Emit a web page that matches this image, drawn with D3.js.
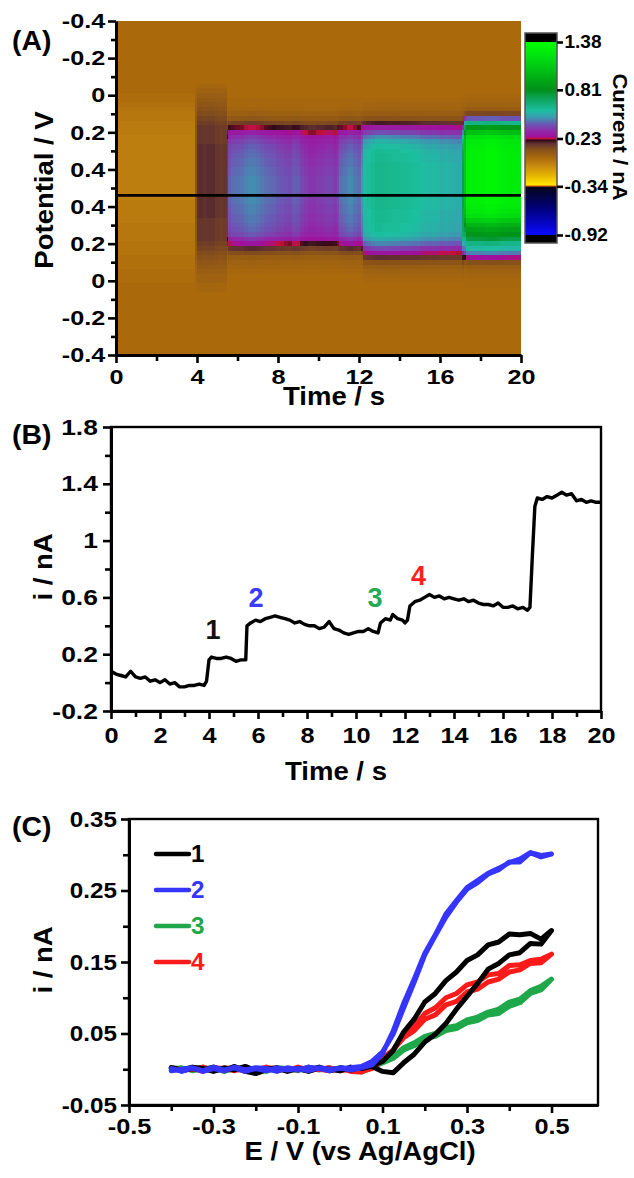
<!DOCTYPE html>
<html>
<head>
<meta charset="utf-8">
<script src="https://cdn.jsdelivr.net/npm/d3@7"></script>
<style>
  html, body { margin: 0; padding: 0; background: #fff; }
  svg { display: block; }
</style>
</head>
<body>
<svg id="fig" width="634" height="1178"></svg>
<script>
// ---------------- Data ----------------

// (B) current at the probe potential vs time
const traceTime = [0,0.2,0.4,0.6,0.8,1.0,1.2,1.4,1.6,1.8,2.0,2.2,2.4,2.6,2.8,3.0,3.2,3.4,3.6,3.8,
  3.9,4.0,4.1,4.3,4.5,4.7,4.9,5.1,5.3,5.5,5.55,
  5.7,5.9,6.1,6.3,6.5,6.7,6.9,7.1,7.3,7.5,7.7,7.9,8.1,8.3,8.5,8.7,8.9,9.1,9.3,9.5,9.7,9.9,10.1,10.3,10.5,10.7,10.9,
  11.0,11.2,11.4,11.5,11.7,11.9,12.0,12.1,12.2,
  12.4,12.6,12.8,13.0,13.2,13.4,13.6,13.8,14.0,14.2,14.4,14.6,14.8,15.0,15.2,15.4,15.6,15.8,16.0,16.2,16.4,16.6,16.8,17.0,
  17.1,17.2,17.3,
  17.4,17.6,17.8,18.0,18.2,18.4,18.6,18.8,19.0,19.2,19.4,19.6,19.8,20.0];
const traceCurrent = [0.08,0.06,0.05,0.04,0.08,0.04,0.03,0.04,0.01,0.02,0.00,0.02,-0.01,0.00,-0.03,-0.03,-0.02,-0.02,-0.01,-0.02,
  0.01,0.16,0.18,0.17,0.17,0.18,0.17,0.15,0.16,0.16,0.40,
  0.42,0.44,0.43,0.45,0.46,0.47,0.46,0.45,0.44,0.42,0.43,0.41,0.40,0.40,0.38,0.39,0.43,0.38,0.37,0.35,0.34,0.35,0.36,0.36,0.38,0.36,0.35,
  0.42,0.45,0.44,0.48,0.45,0.44,0.42,0.44,0.54,
  0.57,0.58,0.60,0.62,0.60,0.61,0.59,0.60,0.59,0.58,0.59,0.57,0.58,0.56,0.55,0.55,0.54,0.56,0.53,0.53,0.54,0.52,0.53,0.51,
  0.53,0.90,1.24,
  1.30,1.29,1.31,1.30,1.32,1.34,1.32,1.33,1.28,1.29,1.27,1.28,1.27,1.27];
const eventLabels = ["1", "2", "3", "4"];
const eventTime = [4.16, 5.92, 10.78, 12.55];
const eventCurrent = [0.31, 0.53, 0.53, 0.69];
const eventColors = ["#111111", "#3b3bff", "#22aa55", "#ff2020"];

// (A) colour plot: potential sweep runs -0.4 -> 0.5 -> -0.4 V (sweep distance 0 .. 1.8)
const sweepTickPos = [0, 0.2, 0.4, 0.6, 0.8, 1.0, 1.2, 1.4, 1.6, 1.8];
const sweepTickLabels = ["-0.4", "-0.2", "0", "0.2", "0.4", "0.4", "0.2", "0", "-0.2", "-0.4"];
const sweepMinorPos = [0.1, 0.3, 0.5, 0.7, 0.9, 1.1, 1.3, 1.5, 1.7];
const probeSweep = 0.94;              // potential used for the trace in (B)
const heatBackground = 0.0;           // current outside the listed rows
const heatSegStart = [0, 3.95, 5.52, 12.15, 17.2];
const heatSweep = [0.300,0.325,0.350,0.375,0.400,0.425,0.450,0.475,0.500,0.525,0.550,0.575,0.600,0.625,0.650,0.675,
  0.700,0.725,0.750,0.775,0.800,0.825,0.850,0.875,0.900,0.925,0.950,0.975,1.000,1.025,1.050,1.075,
  1.100,1.125,1.150,1.175,1.200,1.225,1.250,1.275,1.300,1.325,1.350,1.375,1.400,1.425,1.450,1.475,1.500];
const heatProfile0 = [0,0,0,0, -0.01,-0.01,-0.02,-0.03,
  -0.04,-0.04,-0.05,-0.05,-0.05,-0.06,-0.06,-0.06,-0.06,-0.06,-0.06,-0.06,-0.06,-0.06,-0.06,-0.06,-0.06,-0.06,-0.06,-0.05,-0.05,-0.05,-0.05,-0.05,-0.04,-0.04,-0.04,-0.04,-0.03,-0.03,-0.03,-0.02,-0.02,
  -0.02,-0.01,-0.01,-0.01,0,0,0,0];
const heatProfile1 = [0,0,0.01,0.02, 0.03,0.04,0.05,0.06, 0.07,0.08,0.09,0.10,
  0.10,0.10,0.10,0.11,0.11,0.11,0.11,0.11,0.11,0.11,0.11,0.11,0.11,0.11,0.11,0.11,0.11,0.11,0.11,0.10,0.10,0.10,0.10,0.10,
  0.09,0.08,0.07,0.06, 0.05,0.04,0.03,0.02,0.02, 0.01,0.01,0,0];
const heatProfile2 = [0,0,0,0,0,0.01,0.01,0.02,0.04,0.07,
  0.13,0.21,0.27,0.32,0.35,0.37,
  0.38,0.39,0.40,0.40,0.41,0.41,0.42,0.42,0.42,0.42,0.42,0.42,0.41,0.41,0.40,0.40,0.39,0.38,
  0.36,0.31,0.24,0.16,0.10,0.05,
  0.03,0.02,0.01,0,0,0,0,0,0];
const heatProfile3 = [0,0,0,0,0,0.01,0.02,0.03,0.05,
  0.09,0.18,0.27,0.36,0.44,0.50,0.53,
  0.55,0.56,0.56,0.57,0.57,0.57,0.57,0.57,0.57,0.57,0.57,0.57,0.57,0.56,0.56,0.56,0.55,0.55,
  0.53,0.49,0.43,0.35,0.25,0.16,0.09,
  0.05,0.03,0.02,0.01,0,0,0,0];
const heatProfile4 = [0,0,0,0,0.01,0.02,0.03,0.05,
  0.12,0.40,0.62,0.85,1.05,1.20,1.26,1.28,
  1.29,1.30,1.30,1.30,1.30,1.30,1.30,1.30,1.30,1.30,1.30,1.30,1.28,1.25,
  1.20,1.10,0.98,0.90,0.84,0.75,0.62,
  0.55,0.45,0.25,0.10,0.05,
  0.03,0.02,0.01,0.01,0,0,0];

// colour map (nA -> colour)
const colorStopValues = [-0.92,-0.60,-0.345,-0.34,-0.32,-0.22,-0.10,0.0,0.10,0.17,0.21,0.23,0.25,0.32,0.40,0.48,0.56,0.68,0.81,1.0,1.2,1.38];
const colorStopColors = ["#0a0aff","#00007a","#050518","#e06010","#ffe600","#e8b800","#c88c10","#aa6a0c","#86501a","#603030","#300818","#c41038","#a0109c","#9028a8","#6a58b4","#3c98b0","#1cc0a0","#10a868","#00901a","#00b814","#00e010","#00ff00"];
const colorbarTicks = [1.38, 0.81, 0.23, -0.34, -0.92];
const colorbarTickLabels = ["1.38", "0.81", "0.23", "-0.34", "-0.92"];

// (C) cyclic voltammograms (forward then reverse sweep)
const cvPotential = [-0.4,-0.375,-0.35,-0.325,-0.3,-0.275,-0.25,-0.225,-0.2,-0.175,-0.15,-0.125,-0.1,-0.075,-0.05,-0.025,0,0.025,0.05,
  0.075,0.1,0.125,0.15,0.175,0.2,0.225,0.25,0.275,0.3,0.325,0.35,0.375,0.4,0.425,0.45,0.475,0.5,
  0.475,0.45,0.425,0.4,0.375,0.35,0.325,0.3,0.275,0.25,0.225,0.2,0.175,0.15,0.125,0.1,0.075,0.05,
  0.025,0,-0.025,-0.05,-0.075,-0.1,-0.125,-0.15,-0.175,-0.2,-0.225,-0.25,-0.275,-0.3,-0.325,-0.35,-0.375,-0.4];
const cv1 = [0.002,-0.002,0.001,-0.001,0.003,-0.002,0.004,-0.003,-0.006,-0.001,0.002,-0.002,0.001,-0.003,0.002,0.000,-0.002,0.003,0.001,
  0.004,-0.003,-0.005,0.009,0.021,0.038,0.049,0.064,0.084,0.102,0.12,0.14,0.148,0.16,0.163,0.176,0.175,0.194,
  0.182,0.19,0.188,0.189,0.178,0.174,0.16,0.152,0.136,0.124,0.106,0.094,0.07,0.052,0.026,0.011,0.005,0.003,
  -0.001,0.002,-0.002,0.003,-0.001,0.001,-0.003,0.002,0.000,-0.002,0.004,-0.001,0.002,-0.003,0.001,0.003,-0.001,0.002];
const cv2 = [0.001,-0.003,0.002,-0.002,0.003,-0.001,0.002,-0.003,0.001,-0.002,0.002,-0.001,0.001,-0.002,0.002,0.000,0.001,0.002,0.004,
  0.011,0.024,0.049,0.086,0.122,0.16,0.187,0.213,0.234,0.252,0.261,0.273,0.279,0.29,0.29,0.303,0.297,0.301,
  0.299,0.303,0.294,0.289,0.281,0.274,0.264,0.254,0.236,0.217,0.188,0.162,0.126,0.092,0.053,0.022,0.006,0.002,
  -0.001,0.002,-0.002,0.001,0.003,-0.001,0.002,-0.003,0.001,0.002,-0.001,0.003,-0.002,0.001,-0.003,0.002,0.000,-0.002];
const cv3 = [-0.001,0.002,-0.002,0.001,0.002,-0.003,0.001,0.003,-0.001,0.002,-0.002,0.001,0.000,-0.002,0.001,-0.001,0.002,0.000,-0.002,
  0.002,0.009,0.015,0.027,0.033,0.043,0.046,0.054,0.057,0.065,0.068,0.076,0.078,0.088,0.093,0.106,0.111,0.126,
  0.116,0.11,0.098,0.094,0.084,0.08,0.073,0.069,0.061,0.058,0.05,0.046,0.037,0.03,0.018,0.01,0.002,-0.004,
  0.001,-0.002,0.002,-0.001,0.003,-0.002,0.001,0.002,-0.003,0.001,-0.001,0.002,0.000,-0.002,0.003,-0.001,0.001,0.002];
const cv4 = [0.002,-0.001,0.001,-0.003,0.002,0.001,-0.002,0.002,-0.001,0.003,-0.002,0.001,-0.001,0.002,0.000,-0.002,0.001,-0.003,-0.004,
  0.003,0.015,0.027,0.044,0.054,0.07,0.076,0.09,0.095,0.108,0.112,0.122,0.126,0.136,0.139,0.148,0.149,0.161,
  0.154,0.152,0.146,0.145,0.134,0.132,0.122,0.118,0.106,0.1,0.086,0.078,0.06,0.048,0.027,0.013,0.001,-0.003,
  0.001,-0.002,0.002,0.000,-0.001,0.003,-0.002,0.001,0.002,-0.001,-0.003,0.002,0.001,-0.002,0.003,0.000,-0.001,0.002];
const cvNames = ["1", "2", "3", "4"];
const cvColors = ["#000000", "#3535ff", "#1fa84a", "#ff1a1a"];
const cvDrawOrder = [2, 3, 0, 1];

// ---------------- Drawing ----------------
const FONT = '"Liberation Sans", Arial, Helvetica, sans-serif';
const svg = d3.select('#fig').style('font-family', FONT);

function styleAxis(g, size, sx) {
  g.attr('font-family', null).attr('font-size', null);
  g.select('.domain').attr('stroke', '#000').attr('stroke-width', 3);
  g.selectAll('.tick line').attr('stroke', '#000').attr('stroke-width', 2.6);
  g.selectAll('.tick text')
    .attr('fill', '#000')
    .style('font-family', FONT).style('font-weight', 'bold').style('font-size', size + 'px')
    .attr('transform', `scale(${sx},1)`);
}
function minorAxis(g) {
  g.select('.domain').remove();
  g.selectAll('.tick line').attr('stroke', '#000').attr('stroke-width', 2.6);
}
function addText(txt, x, y, size, opts = {}) {
  const rot = opts.rotate || 0, sx = opts.sx || 1.1;
  return svg.append('text')
    .attr('transform', `translate(${x},${y}) rotate(${rot}) scale(${sx},1)`)
    .attr('text-anchor', opts.anchor || 'middle')
    .style('font-family', FONT)
    .style('font-weight', opts.weight || 'bold')
    .style('font-size', size + 'px')
    .attr('fill', opts.fill || '#000')
    .text(txt);
}

// ===== Panel A =====
const xA = d3.scaleLinear().domain([0, 20]).range([116, 521]);
const yA = d3.scaleLinear().domain([0, 1.8]).range([21, 355]);
const heatColor = d3.scaleLinear().domain(colorStopValues).range(colorStopColors)
  .interpolate(d3.interpolateRgb).clamp(true);

const profiles = [heatProfile0, heatProfile1, heatProfile2, heatProfile3, heatProfile4];
const lineRow = d3.leastIndex(heatSweep, s => Math.abs(s - probeSweep));
const rowHalf = (heatSweep[1] - heatSweep[0]) / 2;

svg.append('clipPath').attr('id', 'clipA')
  .append('rect').attr('x', xA(0)).attr('y', yA(0)).attr('width', xA(20) - xA(0)).attr('height', yA(1.8) - yA(0));

const heatG = svg.append('g').attr('clip-path', 'url(#clipA)');
heatG.append('rect')
  .attr('x', xA(0)).attr('y', yA(0)).attr('width', xA(20) - xA(0)).attr('height', yA(1.8) - yA(0))
  .attr('fill', heatColor(heatBackground));

const cells = [];
for (let k = 0; k < traceTime.length - 1; k++) {
  const t0 = traceTime[k], t1 = traceTime[k + 1], tm = (t0 + t1) / 2;
  const seg = d3.bisectRight(heatSegStart, tm) - 1;
  const prof = profiles[seg];
  const cur = (traceCurrent[k] + traceCurrent[k + 1]) / 2;
  const ratio = seg === 0 ? 1 : cur / prof[lineRow];
  heatSweep.forEach((s, j) => {
    cells.push({ t0, t1, s, v: prof[j] * ratio });
  });
}
heatG.selectAll('rect.cell').data(cells).join('rect')
  .attr('class', 'cell')
  .attr('x', d => xA(d.t0))
  .attr('width', d => xA(d.t1) - xA(d.t0) + 0.6)
  .attr('y', d => yA(d.s - rowHalf))
  .attr('height', d => yA(d.s + rowHalf) - yA(d.s - rowHalf) + 0.6)
  .attr('fill', d => heatColor(d.v))
  .attr('shape-rendering', 'crispEdges');

// probe line
svg.append('line')
  .attr('x1', xA(0)).attr('x2', xA(20))
  .attr('y1', yA(probeSweep)).attr('y2', yA(probeSweep))
  .attr('stroke', '#000').attr('stroke-width', 2.6);

// axes A
const gAy = svg.append('g').attr('transform', `translate(${xA(0)},0)`)
  .call(d3.axisLeft(yA).tickValues(sweepTickPos).tickFormat((d, i) => sweepTickLabels[i]).tickSize(8).tickPadding(1).tickSizeOuter(0));
styleAxis(gAy, 21, 1.2);
svg.append('g').attr('transform', `translate(${xA(0)},0)`)
  .call(d3.axisLeft(yA).tickValues(sweepMinorPos).tickFormat('').tickSize(5)).call(minorAxis);

const gAx = svg.append('g').attr('transform', `translate(0,${yA(1.8)})`)
  .call(d3.axisBottom(xA).tickValues([0, 4, 8, 12, 16, 20]).tickFormat(d3.format('d')).tickSize(8).tickPadding(6).tickSizeOuter(0));
styleAxis(gAx, 21, 1.2);
svg.append('g').attr('transform', `translate(0,${yA(1.8)})`)
  .call(d3.axisBottom(xA).tickValues([2, 6, 10, 14, 18]).tickFormat('').tickSize(6)).call(minorAxis);

addText('(A)', 12, 50, 27, { anchor: 'start', sx: 1.05 });
addText('Potential / V', 53, 190, 25, { rotate: -90 });
addText('Time / s', 334, 405, 25);

// colour bar
const cbX = 525, cbW = 32;
const yCb = d3.scaleLinear().domain([-0.92, 1.38]).range([235, 42]);
const grad = svg.append('defs').append('linearGradient').attr('id', 'cbGrad')
  .attr('x1', 0).attr('x2', 0).attr('y1', 1).attr('y2', 0);
colorStopValues.forEach((v, i) => {
  grad.append('stop').attr('offset', (v + 0.92) / 2.3).attr('stop-color', colorStopColors[i]);
});
svg.append('rect').attr('x', cbX).attr('y', yCb(1.38)).attr('width', cbW).attr('height', yCb(-0.92) - yCb(1.38)).attr('fill', 'url(#cbGrad)');
svg.append('rect').attr('x', cbX).attr('y', 33).attr('width', cbW).attr('height', yCb(1.38) - 33).attr('fill', '#000');
svg.append('rect').attr('x', cbX).attr('y', yCb(-0.92)).attr('width', cbW).attr('height', 243 - yCb(-0.92)).attr('fill', '#000');
svg.append('rect').attr('x', cbX).attr('y', 33).attr('width', cbW).attr('height', 210)
  .attr('fill', 'none').attr('stroke', '#555').attr('stroke-width', 1.5);
const gCb = svg.append('g').attr('transform', `translate(${cbX + cbW},0)`)
  .call(d3.axisRight(yCb).tickValues(colorbarTicks).tickFormat((d, i) => colorbarTickLabels[i]).tickSize(6).tickPadding(1).tickSizeOuter(0));
styleAxis(gCb, 18, 1.06);
gCb.select('.domain').remove();
addText('Current / nA', 613, 137, 20, { rotate: 90 });

// ===== Panel B =====
const xB = d3.scaleLinear().domain([0, 20]).range([111, 601]);
const yB = d3.scaleLinear().domain([-0.2, 1.8]).range([711, 427]);
svg.append('rect').attr('x', xB(0)).attr('y', yB(1.8)).attr('width', xB(20) - xB(0)).attr('height', yB(-0.2) - yB(1.8))
  .attr('fill', 'none').attr('stroke', '#000').attr('stroke-width', 2.4);
const gBx = svg.append('g').attr('transform', `translate(0,${yB(-0.2)})`)
  .call(d3.axisBottom(xB).tickValues(d3.range(0, 21, 2)).tickFormat(d3.format('d')).tickSize(8).tickPadding(8).tickSizeOuter(0));
styleAxis(gBx, 22, 1.15);
svg.append('g').attr('transform', `translate(0,${yB(-0.2)})`)
  .call(d3.axisBottom(xB).tickValues(d3.range(1, 20, 2)).tickFormat('').tickSize(6)).call(minorAxis);
const bTickLabels = ["-0.2", "0.2", "0.6", "1", "1.4", "1.8"];
const gBy = svg.append('g').attr('transform', `translate(${xB(0)},0)`)
  .call(d3.axisLeft(yB).tickValues([-0.2, 0.2, 0.6, 1.0, 1.4, 1.8]).tickFormat((d, i) => bTickLabels[i]).tickSize(8).tickPadding(3).tickSizeOuter(0));
styleAxis(gBy, 22, 1.2);
svg.append('g').attr('transform', `translate(${xB(0)},0)`)
  .call(d3.axisLeft(yB).tickValues([0, 0.4, 0.8, 1.2, 1.6]).tickFormat('').tickSize(6)).call(minorAxis);

const traceLine = d3.line().x((d, i) => xB(traceTime[i])).y(d => yB(d));
svg.append('path').datum(traceCurrent)
  .attr('d', traceLine).attr('fill', 'none').attr('stroke', '#000')
  .attr('stroke-width', 3.4).attr('stroke-linejoin', 'round');

eventLabels.forEach((lab, i) => {
  addText(lab, xB(eventTime[i]), yB(eventCurrent[i]), 27, { fill: eventColors[i], weight: 'bold', sx: 1.0 });
});

addText('(B)', 12, 444, 27, { anchor: 'start', sx: 1.05 });
addText('i / nA', 52, 567, 25, { rotate: -90 });
addText('Time / s', 336, 780, 25);

// ===== Panel C =====
const xC = d3.scaleLinear().domain([-0.5, 0.61]).range([129, 598]);
const yC = d3.scaleLinear().domain([-0.05, 0.35]).range([1105, 819]);
svg.append('rect').attr('x', xC(-0.5)).attr('y', yC(0.35)).attr('width', xC(0.61) - xC(-0.5)).attr('height', yC(-0.05) - yC(0.35))
  .attr('fill', 'none').attr('stroke', '#000').attr('stroke-width', 2.4);
const cxLabels = ["-0.5", "-0.3", "-0.1", "0.1", "0.3", "0.5"];
const gCx = svg.append('g').attr('transform', `translate(0,${yC(-0.05)})`)
  .call(d3.axisBottom(xC).tickValues([-0.5, -0.3, -0.1, 0.1, 0.3, 0.5]).tickFormat((d, i) => cxLabels[i]).tickSize(8).tickPadding(5).tickSizeOuter(0));
styleAxis(gCx, 22, 1.15);
svg.append('g').attr('transform', `translate(0,${yC(-0.05)})`)
  .call(d3.axisBottom(xC).tickValues([-0.4, -0.2, 0, 0.2, 0.4]).tickFormat('').tickSize(6)).call(minorAxis);
const cyLabels = ["-0.05", "0.05", "0.15", "0.25", "0.35"];
const gCy = svg.append('g').attr('transform', `translate(${xC(-0.5)},0)`)
  .call(d3.axisLeft(yC).tickValues([-0.05, 0.05, 0.15, 0.25, 0.35]).tickFormat((d, i) => cyLabels[i]).tickSize(8).tickPadding(3).tickSizeOuter(0));
styleAxis(gCy, 22, 1.1);
svg.append('g').attr('transform', `translate(${xC(-0.5)},0)`)
  .call(d3.axisLeft(yC).tickValues([0, 0.1, 0.2, 0.3]).tickFormat('').tickSize(6)).call(minorAxis);

const cvSeries = [cv1, cv2, cv3, cv4];
const cvLine = d3.line().x((d, i) => xC(cvPotential[i])).y(d => yC(d));
cvDrawOrder.forEach(k => {
  svg.append('path').datum(cvSeries[k])
    .attr('d', cvLine).attr('fill', 'none').attr('stroke', cvColors[k])
    .attr('stroke-width', 5).attr('stroke-linejoin', 'round').attr('stroke-linecap', 'round');
});

// legend
cvNames.forEach((name, i) => {
  const ly = 854 + i * 36;
  svg.append('line').attr('x1', 156).attr('x2', 189).attr('y1', ly).attr('y2', ly)
    .attr('stroke', cvColors[i]).attr('stroke-width', 4.5).attr('stroke-linecap', 'round');
  addText(name, 191, ly + 8, 23, { anchor: 'start', fill: cvColors[i], sx: 1.05 });
});

addText('(C)', 12, 836, 27, { anchor: 'start', sx: 1.05 });
addText('i / nA', 52, 960, 25, { rotate: -90 });
addText('E / V (vs Ag/AgCl)', 360, 1160, 25);
</script>
</body>
</html>
